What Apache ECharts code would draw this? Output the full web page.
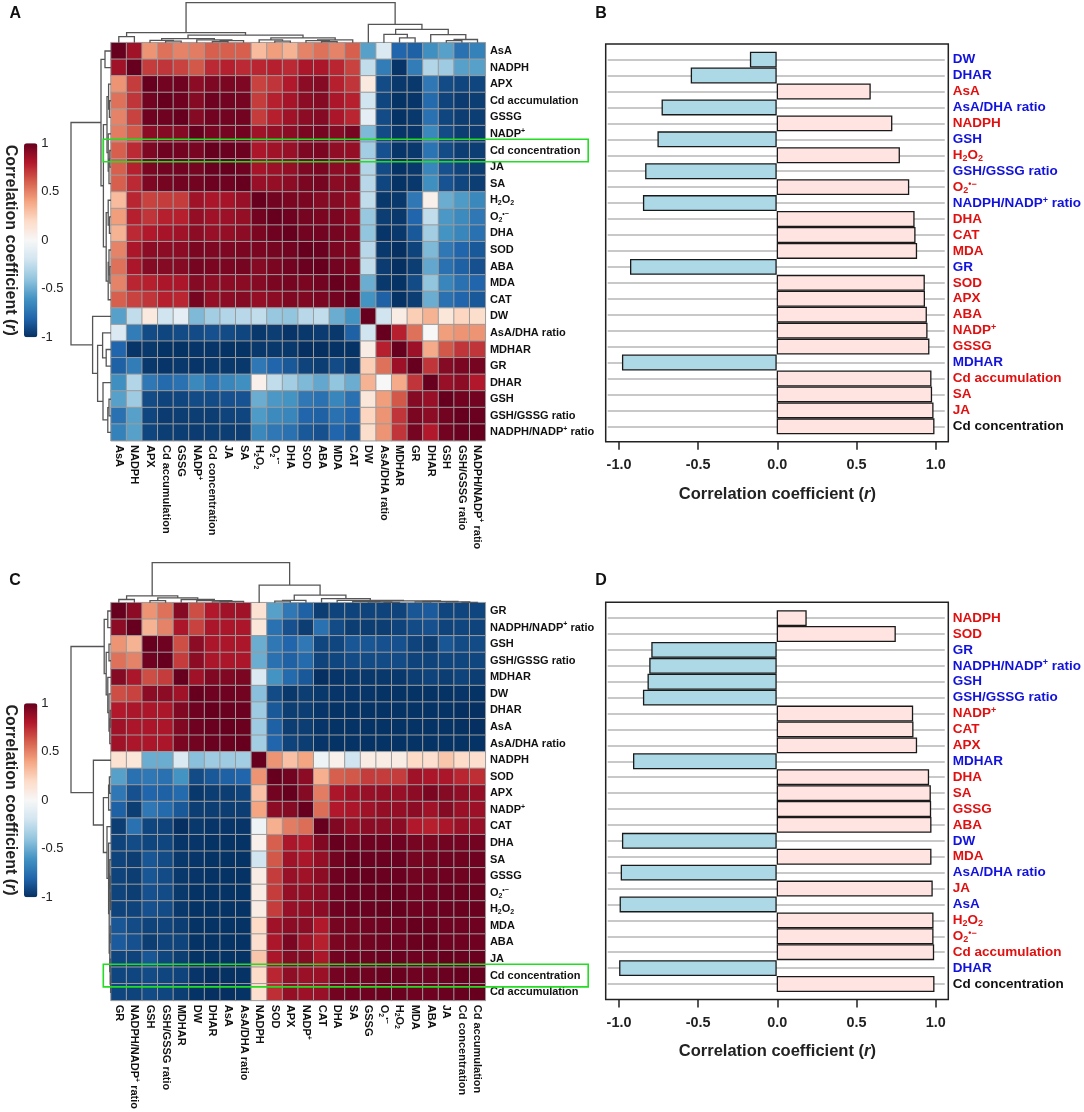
<!DOCTYPE html>
<html>
<head>
<meta charset="utf-8">
<script src="https://cdn.jsdelivr.net/npm/echarts@6/dist/echarts.min.js"></script>
<style>
html,body{margin:0;padding:0;background:#fff}
#main{width:1084px;height:1112px}
</style>
</head>
<body>
<div id="main"></div>
<script>
// ---------------- data ----------------
// panel A/C: order of rows (= columns) in each clustered heatmap
var namesA = ['AsA','NADPH','APX','Cd accumulation','GSSG','NADP+','Cd concentration','JA','SA','H2O2','O2•−','DHA','SOD','ABA','MDA','CAT','DW','AsA/DHA ratio','MDHAR','GR','DHAR','GSH','GSH/GSSG ratio','NADPH/NADP+ ratio'];
var namesC = ['GR','NADPH/NADP+ ratio','GSH','GSH/GSSG ratio','MDHAR','DW','DHAR','AsA','AsA/DHA ratio','NADPH','SOD','APX','NADP+','CAT','DHA','SA','GSSG','O2•−','H2O2','MDA','ABA','JA','Cd concentration','Cd accumulation'];

// lower triangle of the correlation matrices (row i: columns 0..i)
var lowerA = [
  [1],
  [0.85,1],
  [0.45,0.7,1],
  [0.55,0.72,0.97,1],
  [0.5,0.68,0.98,0.98,1],
  [0.52,0.62,0.9,0.92,0.92,1],
  [0.6,0.75,0.94,0.98,0.97,0.955,1],
  [0.6,0.78,0.95,0.97,0.97,0.96,0.99,1],
  [0.6,0.75,0.94,0.96,0.97,0.97,0.985,0.98,1],
  [0.32,0.76,0.68,0.7,0.7,0.85,0.82,0.83,0.87,1],
  [0.42,0.78,0.72,0.78,0.78,0.88,0.85,0.86,0.88,0.97,1],
  [0.35,0.75,0.8,0.83,0.85,0.9,0.87,0.88,0.9,0.95,0.98,1],
  [0.5,0.82,0.9,0.9,0.9,0.95,0.94,0.94,0.95,0.95,0.96,0.97,1],
  [0.55,0.82,0.92,0.92,0.92,0.96,0.95,0.95,0.96,0.92,0.95,0.97,0.99,1],
  [0.5,0.76,0.78,0.82,0.82,0.92,0.89,0.9,0.91,0.92,0.95,0.96,0.95,0.97,1],
  [0.6,0.68,0.72,0.78,0.76,0.96,0.88,0.9,0.92,0.88,0.9,0.93,0.93,0.95,0.97,1],
  [-0.55,-0.25,0.1,-0.2,-0.1,-0.45,-0.35,-0.3,-0.28,-0.25,-0.38,-0.4,-0.28,-0.25,-0.5,-0.6,1],
  [-0.15,-0.7,-0.9,-0.92,-0.9,-0.9,-0.88,-0.9,-0.92,-0.97,-0.95,-0.98,-0.97,-0.96,-0.97,-0.82,-0.2,1],
  [-0.8,-0.98,-0.97,-0.99,-0.99,-0.98,-0.98,-0.99,-0.99,-0.97,-0.97,-0.97,-1,-1,-0.99,-0.99,0.08,0.78,1],
  [-0.82,-0.7,-0.97,-0.98,-0.97,-0.98,-0.97,-0.97,-0.97,-0.72,-0.8,-0.85,-0.93,-0.95,-0.9,-0.95,0.25,0.55,0.86,1],
  [-0.62,-0.3,-0.72,-0.78,-0.75,-0.65,-0.74,-0.66,-0.62,0.05,-0.25,-0.35,-0.45,-0.52,-0.4,-0.5,0.35,0,0.38,0.72,1],
  [-0.55,-0.36,-0.9,-0.93,-0.92,-0.9,-0.9,-0.88,-0.87,-0.5,-0.58,-0.6,-0.72,-0.75,-0.66,-0.75,0.12,0.42,0.62,0.92,0.87,1],
  [-0.75,-0.55,-0.92,-0.96,-0.95,-0.95,-0.95,-0.93,-0.92,-0.57,-0.64,-0.66,-0.8,-0.82,-0.75,-0.8,0.22,0.45,0.72,0.95,0.9,0.97,1],
  [-0.68,-0.55,-0.92,-0.95,-0.95,-0.96,-0.95,-0.95,-0.95,-0.65,-0.72,-0.75,-0.85,-0.88,-0.8,-0.85,0.18,0.45,0.72,0.96,0.8,0.97,0.99,1]
];
var lowerC = [
  [1],
  [0.9,1],
  [0.45,0.35,1],
  [0.55,0.5,0.98,1],
  [0.92,0.82,0.65,0.7,1],
  [0.65,0.68,0.9,0.9,0.85,1],
  [0.8,0.82,0.82,0.82,0.93,0.98,1],
  [0.85,0.82,0.82,0.82,0.93,0.98,0.99,1],
  [0.85,0.82,0.82,0.82,0.95,0.97,0.99,0.995,1],
  [0.15,0.12,-0.5,-0.5,-0.15,-0.42,-0.36,-0.36,-0.35,1],
  [-0.55,-0.75,-0.72,-0.75,-0.6,-0.9,-0.85,-0.82,-0.8,0.45,1],
  [-0.72,-0.88,-0.8,-0.82,-0.78,-0.97,-0.95,-0.95,-0.93,0.3,0.97,1],
  [-0.82,-0.95,-0.72,-0.78,-0.85,-0.95,-0.95,-0.95,-0.95,0.4,0.9,0.92,1],
  [-0.95,-0.75,-0.92,-0.93,-1,-0.97,-0.98,-0.98,-0.98,-0.05,0.36,0.52,0.56,1],
  [-0.93,-0.9,-0.92,-0.92,-0.98,-0.98,-0.99,-0.99,-0.99,0.05,0.6,0.82,0.8,0.93,1],
  [-0.93,-0.95,-0.86,-0.9,-0.97,-0.98,-0.99,-0.99,-0.99,-0.2,0.62,0.85,0.82,0.88,0.97,1],
  [-0.93,-0.95,-0.86,-0.9,-0.97,-0.98,-0.99,-0.99,-0.99,0.08,0.7,0.87,0.85,0.9,0.98,0.99,1],
  [-0.93,-0.95,-0.88,-0.9,-0.97,-0.99,-0.99,-0.99,-0.99,0.08,0.7,0.88,0.88,0.9,0.98,0.99,0.99,1],
  [-0.93,-0.93,-0.88,-0.9,-0.97,-0.99,-0.99,-0.99,-0.99,0.08,0.7,0.87,0.88,0.9,0.98,0.99,0.99,0.999,1],
  [-0.86,-0.9,-0.93,-0.93,-0.95,-0.99,-0.99,-0.99,-0.99,0.2,0.85,0.9,0.9,0.8,0.96,0.96,0.97,0.98,0.98,1],
  [-0.84,-0.88,-0.95,-0.93,-0.93,-0.99,-0.99,-0.99,-0.99,0.17,0.82,0.95,0.85,0.78,0.95,0.96,0.97,0.98,0.98,0.995,1],
  [-0.92,-0.93,-0.86,-0.92,-0.95,-0.99,-0.99,-0.99,-0.99,0.28,0.82,0.92,0.92,0.82,0.97,0.98,0.98,0.99,0.99,0.98,0.98,1],
  [-0.92,-0.92,-0.9,-0.92,-0.93,-0.98,-0.999,-0.996,-0.99,0.19,0.76,0.89,0.865,0.867,0.966,0.977,0.979,0.994,0.994,0.981,0.981,0.989,1],
  [-0.92,-0.93,-0.9,-0.92,-0.95,-0.99,-1,-1,-0.99,0.17,0.74,0.88,0.86,0.87,0.97,0.98,0.98,0.995,0.995,0.98,0.98,0.99,0.998,1]
];

// dendrograms: [left, right, height]; leaves are positions in the order above
var treeA = [[[0,1,0.15],[[[2,[3,4,0.04],0.06],[5,[[6,7,0.03],8,0.05],0.07],0.1],[[9,[10,11,0.04],0.07],[[12,[13,14,0.03],0.05],15,0.07],0.12],0.19],0.25],
             [16,[[17,[18,19,0.12],0.21],[20,[[21,22,0.05],23,0.08],0.2],0.335],0.46],1];
var treeC = [[[0,1,0.08],[[2,3,0.05],[4,[5,[[6,7,0.02],8,0.03],0.05],0.08],0.12],0.17],
             [9,[[[10,11,0.04],12,0.06],[13,[14,[[15,[16,[17,18,0.01],0.02],0.03],[[19,20,0.02],[21,[22,23,0.01],0.02],0.03],0.045],0.06],0.1],0.19],0.44],1];

// panel B/D: correlation of each trait with Cd concentration
var barNamesB = ['DW','DHAR','AsA','AsA/DHA ratio','NADPH','GSH','H2O2','GSH/GSSG ratio','O2•−','NADPH/NADP+ ratio','DHA','CAT','MDA','GR','SOD','APX','ABA','NADP+','GSSG','MDHAR','Cd accumulation','SA','JA','Cd concentration'];
var barValuesB = [-0.17,-0.545,0.596,-0.73,0.733,-0.756,0.781,-0.834,0.84,-0.848,0.874,0.88,0.89,-0.93,0.939,0.94,0.952,0.956,0.968,-0.981,0.981,0.985,0.994,1.0];
var barNamesD = ['NADPH','SOD','GR','NADPH/NADP+ ratio','GSH','GSH/GSSG ratio','NADP+','CAT','APX','MDHAR','DHA','SA','GSSG','ABA','DW','MDA','AsA/DHA ratio','JA','AsA','H2O2','O2•−','Cd accumulation','DHAR','Cd concentration'];
var barValuesD = [0.19,0.755,-0.795,-0.808,-0.819,-0.848,0.865,0.867,0.89,-0.911,0.966,0.977,0.979,0.981,-0.981,0.981,-0.989,0.989,-0.996,0.994,0.994,0.998,-0.999,1.0];

var RDBU = ['#053061','#2166AC','#4393C3','#92C5DE','#D1E5F0','#F7F7F7','#FDDBC7','#F4A582','#D6604D','#B2182B','#67001F'];
var FONT = '"Liberation Sans", Arial, sans-serif';

// ---------------- helpers ----------------
function fullMatrix(lower) {
  var n = lower.length, m = [];
  for (var i = 0; i < n; i++) {
    m.push([]);
    for (var j = 0; j < n; j++) m[i].push(j <= i ? lower[i][j] : lower[j][i]);
  }
  return m;
}
function dendroSegments(tree) {
  var out = [];
  function walk(nd) {
    if (typeof nd === 'number') return { p: nd, h: 0 };
    var a = walk(nd[0]), b = walk(nd[1]), h = nd[2];
    out.push([[a.p, a.h], [a.p, h], [b.p, h], [b.p, b.h]]);
    return { p: (a.p + b.p) / 2, h: h };
  }
  walk(tree);
  return out;
}
function richName(s) {
  return s.replace('H2O2', 'H{sub|2}O{sub|2}')
          .replace('O2•−', 'O{sub|2}{sup|•−}')
          .replace('NADP+', 'NADP{sup|+}');
}
function richStyles(size, weight) {
  var small = Math.round(size * 0.68);
  return {
    sub: { fontSize: small, fontWeight: weight, fontFamily: FONT, lineHeight: small, verticalAlign: 'bottom' },
    sup: { fontSize: small, fontWeight: weight, fontFamily: FONT, lineHeight: small, verticalAlign: 'top' }
  };
}

var grids = [], xAxes = [], yAxes = [], series = [], visualMaps = [];
function add(arr, o) { arr.push(o); return arr.length - 1; }
var hidden = { show: false };

// heatmap geometry
var HM_LEFT = 111, HM_W = 374.3, HM_H = 398, DEPTH = 40;
var CB_LEFT = 24, CB_W = 13.4, CB_H = 194;

function hmLabel(rotate, margin) {
  return {
    interval: 0, rotate: rotate, margin: margin, fontSize: 11, fontWeight: 'bold',
    fontFamily: FONT, color: '#111', lineHeight: 13,
    formatter: richName, rich: richStyles(11, 'bold')
  };
}

function heatPanel(names, lower, tree, hmTop, cbTop) {
  var n = names.length, M = fullMatrix(lower);
  var g = add(grids, { left: HM_LEFT, top: hmTop, width: HM_W, height: HM_H });
  var xi = add(xAxes, { type: 'category', gridIndex: g, data: names, position: 'bottom',
    axisLine: hidden, axisTick: hidden, splitLine: hidden, axisLabel: hmLabel(-90, 4.3) });
  var yi = add(yAxes, { type: 'category', gridIndex: g, data: names, inverse: true, position: 'right',
    axisLine: hidden, axisTick: hidden, splitLine: hidden, axisLabel: hmLabel(0, 4.6) });
  var data = [];
  for (var i = 0; i < n; i++) for (var j = 0; j < n; j++) data.push([j, i, M[i][j]]);
  var s = add(series, { type: 'heatmap', xAxisIndex: xi, yAxisIndex: yi, data: data, silent: true,
    itemStyle: { borderColor: '#9c9c9c', borderWidth: 1 } });
  visualMaps.push({ type: 'continuous', seriesIndex: s, min: -1, max: 1, inRange: { color: RDBU },
    left: CB_LEFT, top: cbTop, itemWidth: CB_W, itemHeight: CB_H, padding: 0,
    calculable: false, hoverLink: false, text: null, orient: 'vertical' });

  // colour bar labels
  var gc = add(grids, { left: CB_LEFT, top: cbTop, width: CB_W, height: CB_H });
  add(xAxes, { type: 'value', gridIndex: gc, show: false });
  add(yAxes, { type: 'value', gridIndex: gc, min: -1, max: 1, interval: 0.5, position: 'right',
    axisLine: hidden, axisTick: hidden, splitLine: hidden,
    axisLabel: { margin: 3.8, fontSize: 13, color: '#222', fontFamily: FONT } });

  var segs = dendroSegments(tree);
  var lineStyle = { color: '#555', width: 1.3, opacity: 1 };
  // top dendrogram
  var gt = add(grids, { left: HM_LEFT, top: hmTop - DEPTH, width: HM_W, height: DEPTH });
  var xt = add(xAxes, { type: 'value', gridIndex: gt, min: -0.5, max: n - 0.5, show: false });
  var yt = add(yAxes, { type: 'value', gridIndex: gt, min: 0, max: 1, show: false });
  series.push({ type: 'lines', coordinateSystem: 'cartesian2d', xAxisIndex: xt, yAxisIndex: yt,
    polyline: true, silent: true, lineStyle: lineStyle,
    data: segs.map(function (c) { return { coords: c }; }) });
  // left dendrogram
  var gl = add(grids, { left: HM_LEFT - DEPTH, top: hmTop, width: DEPTH, height: HM_H });
  var xl = add(xAxes, { type: 'value', gridIndex: gl, min: 0, max: 1, inverse: true, show: false });
  var yl = add(yAxes, { type: 'value', gridIndex: gl, min: -0.5, max: n - 0.5, inverse: true, show: false });
  series.push({ type: 'lines', coordinateSystem: 'cartesian2d', xAxisIndex: xl, yAxisIndex: yl,
    polyline: true, silent: true, lineStyle: lineStyle,
    data: segs.map(function (c) { return { coords: c.map(function (p) { return [p[1], p[0]]; }) }; }) });
  return yi;
}

// bar geometry
var FR_LEFT = 605.7, FR_W = 342.6, TK_LEFT = 619, TK_W = 316.7;
var BAR_LEFT = 607.7, BAR_W = 338.3;
var PX_PER = TK_W / 2, ZERO = TK_LEFT + TK_W / 2;

function barPanel(names, values, frameTop, frameH, barTop, barBottom) {
  var gf = add(grids, { left: FR_LEFT, top: frameTop, width: FR_W, height: frameH,
    show: true, borderColor: '#222', borderWidth: 1.5, backgroundColor: 'transparent' });
  add(xAxes, { type: 'value', gridIndex: gf, show: false });
  add(yAxes, { type: 'value', gridIndex: gf, show: false });

  var gt = add(grids, { left: TK_LEFT, top: frameTop, width: TK_W, height: frameH });
  add(xAxes, { type: 'value', gridIndex: gt, min: -1, max: 1, interval: 0.5,
    axisLine: hidden, splitLine: hidden,
    axisTick: { show: true, length: 8, lineStyle: { color: '#222', width: 1.5 } },
    axisLabel: { margin: 16.5, fontSize: 14.4, fontWeight: 'bold', color: '#222', fontFamily: FONT,
      formatter: function (v) { return v.toFixed(1); } },
    name: 'Correlation coefficient ({i|r})', nameLocation: 'middle', nameGap: 44,
    nameTextStyle: { fontSize: 16.5, fontWeight: 'bold', color: '#222', fontFamily: FONT,
      rich: { i: { fontSize: 16.5, fontWeight: 'bold', fontStyle: 'italic', fontFamily: FONT, color: '#222' } } } });
  add(yAxes, { type: 'value', gridIndex: gt, show: false });

  var step = (barBottom - barTop) / (names.length - 1);
  var gb = add(grids, { left: BAR_LEFT, top: barTop, width: BAR_W, height: barBottom - barTop });
  var xb = add(xAxes, { type: 'value', gridIndex: gb, show: false,
    min: -(ZERO - BAR_LEFT) / PX_PER, max: (BAR_LEFT + BAR_W - ZERO) / PX_PER });
  var yb = add(yAxes, { type: 'category', gridIndex: gb, data: names, inverse: true, boundaryGap: false,
    position: 'right', axisLine: hidden, axisTick: hidden,
    splitLine: { show: true, interval: 0, lineStyle: { color: '#c8c8c8', width: 1.8 } },
    axisLabel: { interval: 0, margin: 8, fontSize: 13.5, fontWeight: 'bold', fontFamily: FONT, lineHeight: 15,
      color: function (v, i) {
        if (v === 'Cd concentration') return '#111';
        return values[i] < 0 ? '#1212dd' : '#e01010';
      },
      formatter: richName, rich: richStyles(13.5, 'bold') } });
  series.push({ type: 'bar', xAxisIndex: xb, yAxisIndex: yb, barWidth: step, silent: true,
    itemStyle: { borderColor: '#1a1a1a', borderWidth: 1.3 },
    data: values.map(function (v) {
      return { value: v, itemStyle: { color: v < 0 ? '#ADD8E6' : '#FFE4E1' } };
    }) });
}

var yA = heatPanel(namesA, lowerA, treeA, 42.7, 143.3);
var yC = heatPanel(namesC, lowerC, treeC, 602.7, 703.3);
barPanel(barNamesB, barValuesB, 44.1, 397.7, 59.6, 426.3);
barPanel(barNamesD, barValuesD, 602.3, 397.1, 618.1, 984.0);

function letter(t, x, y) {
  return { type: 'text', x: x, y: y, style: { text: t, font: 'bold 16px ' + FONT, fill: '#111',
    align: 'center', verticalAlign: 'middle' } };
}
function cbTitle(y) {
  return { type: 'text', x: 10.5, y: y, rotation: -Math.PI / 2,
    style: { text: 'Correlation coefficient ({i|r})', font: 'bold 16px ' + FONT, fill: '#222',
      align: 'center', verticalAlign: 'middle',
      rich: { i: { fontStyle: 'italic', fontWeight: 'bold', fontSize: 16, fontFamily: FONT, fill: '#222' } } } };
}

var chart = echarts.init(document.getElementById('main'), null, { renderer: 'canvas' });
chart.setOption({
  animation: false,
  backgroundColor: '#fff',
  grid: grids, xAxis: xAxes, yAxis: yAxes, series: series, visualMap: visualMaps
});

// green box round the "Cd concentration" row of each heatmap
function greenBox(yIndex) {
  var cy = chart.convertToPixel({ yAxisIndex: yIndex }, 'Cd concentration');
  return { type: 'rect', shape: { x: 103.3, y: cy - 11.3, width: 484.9, height: 22.6 },
    style: { fill: 'none', stroke: '#22dd22', lineWidth: 1.6 }, z: 100 };
}
chart.setOption({ graphic: [letter('A', 15.3, 14), letter('B', 601, 14), letter('C', 15, 580.7), letter('D', 601, 580.4),
  cbTitle(240.3), cbTitle(800), greenBox(yA), greenBox(yC)] });
</script>
</body>
</html>
